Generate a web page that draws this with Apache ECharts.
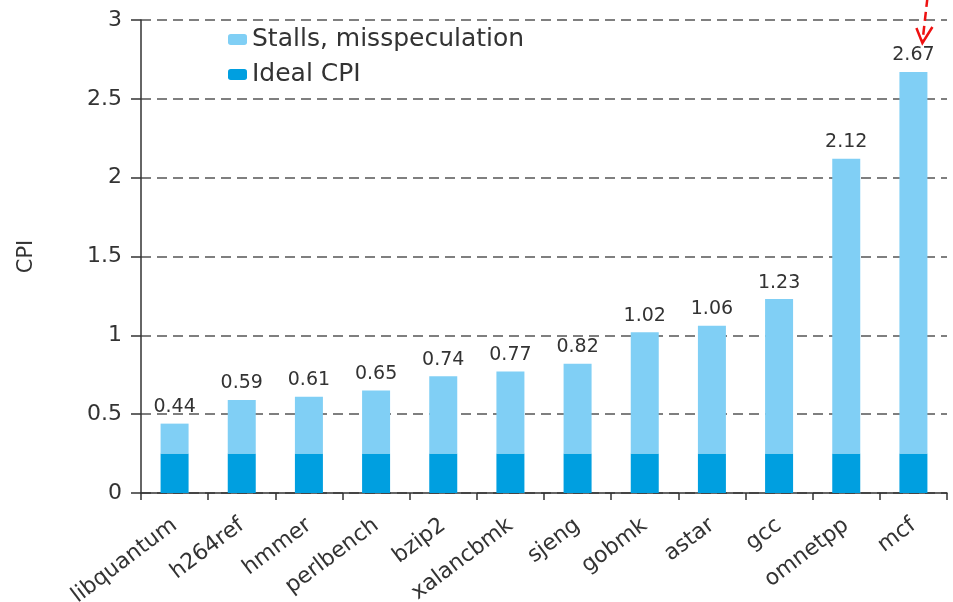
<!DOCTYPE html>
<html><head><meta charset="utf-8">
<script src="https://cdn.jsdelivr.net/npm/echarts@6/dist/echarts.min.js"></script>
<style>html,body{margin:0;padding:0;background:#fff}#c{width:953px;height:602px}</style>
</head><body><div id="c"></div>
<script>
const categories = ['libquantum','h264ref','hmmer','perlbench','bzip2','xalancbmk','sjeng','gobmk','astar','gcc','omnetpp','mcf'];
const totalCPI = [0.44,0.59,0.61,0.65,0.74,0.77,0.82,1.02,1.06,1.23,2.12,2.67];
const idealCPI = [0.25,0.25,0.25,0.25,0.25,0.25,0.25,0.25,0.25,0.25,0.25,0.25];
const stalls = totalCPI.map((t,i)=>+(t-idealCPI[i]).toFixed(2));
const yTicks = [0,0.5,1,1.5,2,2.5,3];

const chart = echarts.init(document.getElementById('c'));
const font = 'DejaVu Sans, Arial, sans-serif';
chart.setOption({
  animation:false,
  textStyle:{fontFamily:font},
  grid:{left:141,right:6,top:20,bottom:109,outerBoundsMode:'none',containLabel:false},
  legend:{
    orient:'vertical', left:223, top:22, itemGap:10, itemWidth:19, itemHeight:11,
    data:['Stalls, misspeculation','Ideal CPI'],
    textStyle:{fontSize:25,color:'#333',fontFamily:font}
  },
  xAxis:{
    type:'category', data:categories,
    axisLine:{lineStyle:{color:'#333',width:1.5}},
    axisTick:{show:true,alignWithLabel:false,length:7,lineStyle:{color:'#333',width:1.5}},
    axisLabel:{rotate:37,fontSize:22,color:'#333',margin:30,interval:0}
  },
  yAxis:{
    type:'value', min:0, max:3, interval:0.5,
    name:'CPI', nameLocation:'middle', nameGap:104, nameRotate:90,
    nameTextStyle:{fontSize:21,color:'#333'},
    axisLine:{show:true,lineStyle:{color:'#333',width:1.5}},
    axisTick:{show:true,length:10,lineStyle:{color:'#333',width:1.5}},
    axisLabel:{fontSize:22,color:'#333',margin:19,formatter:v=>yTicks.includes(v)?String(v):''},
    splitLine:{show:true,lineStyle:{color:'#555',type:[10,6],width:1.5}}
  },
  series:[
    {name:'Ideal CPI',type:'bar',stack:'a',data:idealCPI,barWidth:28,itemStyle:{color:'#009FE0'}},
    {name:'Stalls, misspeculation',type:'bar',stack:'a',data:stalls,barWidth:28,itemStyle:{color:'#80CFF5'},
     label:{show:true,position:'top',distance:7,fontSize:19,color:'#333',formatter:p=>totalCPI[p.dataIndex].toFixed(2)}}
  ]
});
// red annotation arrow pointing at mcf
const p = chart.convertToPixel({seriesIndex:1},[categories.length-1,3]);
chart.setOption({graphic:[
  {type:'line',shape:{x1:p[0]+14,y1:-2,x2:p[0]+9,y2:p[1]+22},style:{stroke:'#ee1111',lineWidth:2.5,lineDash:[9,5]}},
  {type:'polyline',shape:{points:[[p[0]+3,p[1]+8],[p[0]+9,p[1]+23],[p[0]+19,p[1]+7]]},style:{stroke:'#ee1111',lineWidth:2.5,fill:null}}
]});
</script></body></html>
